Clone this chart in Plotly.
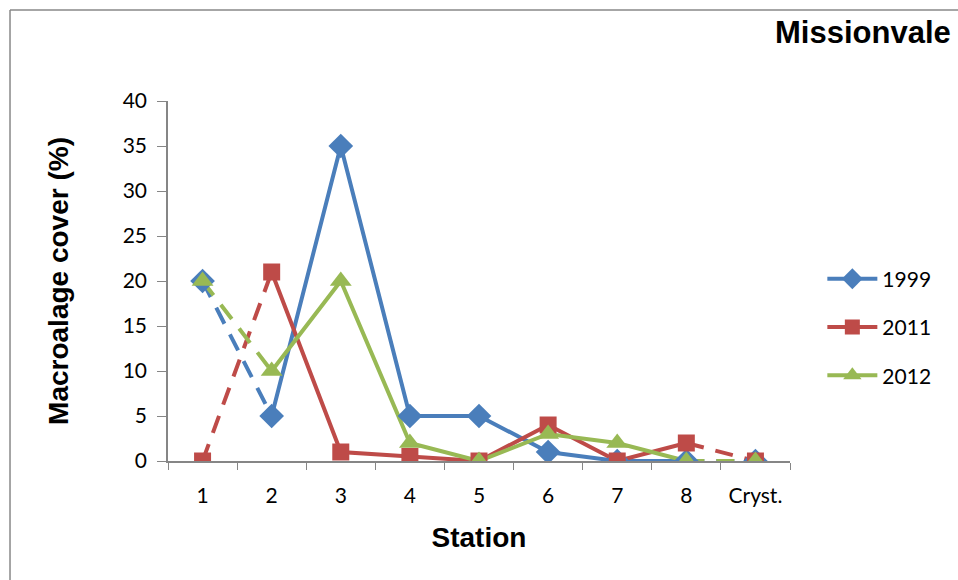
import plotly.graph_objects as go

# Stations along the transect
stations = ["1", "2", "3", "4", "5", "6", "7", "8", "Cryst."]

# Macroalgae cover (%) per survey year
cover_1999 = [20, 5, 35, 5, 5, 1, 0, 0, 0]
cover_2011 = [0, 21, 1, 0.5, 0, 4, 0, 2, 0]
cover_2012 = [20, 10, 20, 2, 0, 3, 2, 0, 0]

series = [
    ("1999", cover_1999, "#4A7EBB", "diamond", 19),
    ("2011", cover_2011, "#BE4B48", "square", 17),
    ("2012", cover_2012, "#98B954", "triangle-up", 19),
]

fig = go.Figure()

dash_style = "18px,12px"
for name, vals, color, symbol, msize in series:
    # dashed links to the first station and to the crystalliser
    for idx in ([0, 1], [7, 8]):
        fig.add_trace(go.Scatter(
            x=[stations[i] for i in idx], y=[vals[i] for i in idx],
            mode="lines", line=dict(color=color, width=4, dash=dash_style),
            showlegend=False, hoverinfo="skip",
        ))
for name, vals, color, symbol, msize in series:
    # solid line through stations 2-8
    fig.add_trace(go.Scatter(
        x=stations[1:8], y=vals[1:8], mode="lines",
        line=dict(color=color, width=4), showlegend=False, hoverinfo="skip",
    ))
for name, vals, color, symbol, msize in series:
    # markers at every station
    fig.add_trace(go.Scatter(
        x=stations, y=vals, mode="markers", name=name,
        marker=dict(symbol=symbol, size=msize, color=color),
        showlegend=False,
    ))
    # legend entry: line with marker
    fig.add_trace(go.Scatter(
        x=[None], y=[None], mode="lines+markers", name=name, legendgroup=name,
        line=dict(color=color, width=4),
        marker=dict(symbol=symbol, size=msize - 2, color=color),
    ))

axis_color = "#868686"
title_font = dict(family="Liberation Sans, Arial", size=28, color="black")
fig.update_layout(
    width=958, height=580,
    margin=dict(l=168, r=168, t=101, b=119),
    paper_bgcolor="white", plot_bgcolor="white",
    font=dict(family="Lato, Liberation Sans, sans-serif", size=21, color="black"),
    xaxis=dict(
        type="category", categoryorder="array", categoryarray=stations,
        range=[-0.5, 8.5], tickson="boundaries", ticks="outside", ticklen=7,
        tickcolor=axis_color, showline=True, linecolor=axis_color, linewidth=1.5,
        showgrid=False, zeroline=False, ticklabelstandoff=15,
        title=dict(text="<b>Station</b>", standoff=21, font=title_font),
    ),
    yaxis=dict(
        range=[0, 40], dtick=5, ticks="outside", ticklen=9, tickcolor=axis_color,
        showline=True, linecolor=axis_color, linewidth=1.5, showgrid=False,
        zeroline=False, ticklabelstandoff=6,
        title=dict(text="<b>Macroalage cover (%)</b>", standoff=46, font=title_font),
    ),
    legend=dict(x=1.052, y=0.372, xanchor="left", yanchor="middle",
                font=dict(size=21), tracegroupgap=18, itemwidth=50,
                bgcolor="rgba(0,0,0,0)"),
    annotations=[dict(
        text="<b>Missionvale</b>", xref="paper", yref="paper",
        x=1.262, y=1.189, xanchor="right", yanchor="middle", showarrow=False,
        font=dict(family="Liberation Sans, Arial", size=31, color="black"),
    )],
    shapes=[
        dict(type="line", xref="paper", yref="paper", x0=-0.254, x1=-0.254,
             y0=1.2528, y1=-0.4, line=dict(color="#888888", width=1.5)),
        dict(type="line", xref="paper", yref="paper", x0=-0.254, x1=1.4,
             y0=1.2528, y1=1.2528, line=dict(color="#888888", width=1.5)),
    ],
)

fig.write_html("out.html")
